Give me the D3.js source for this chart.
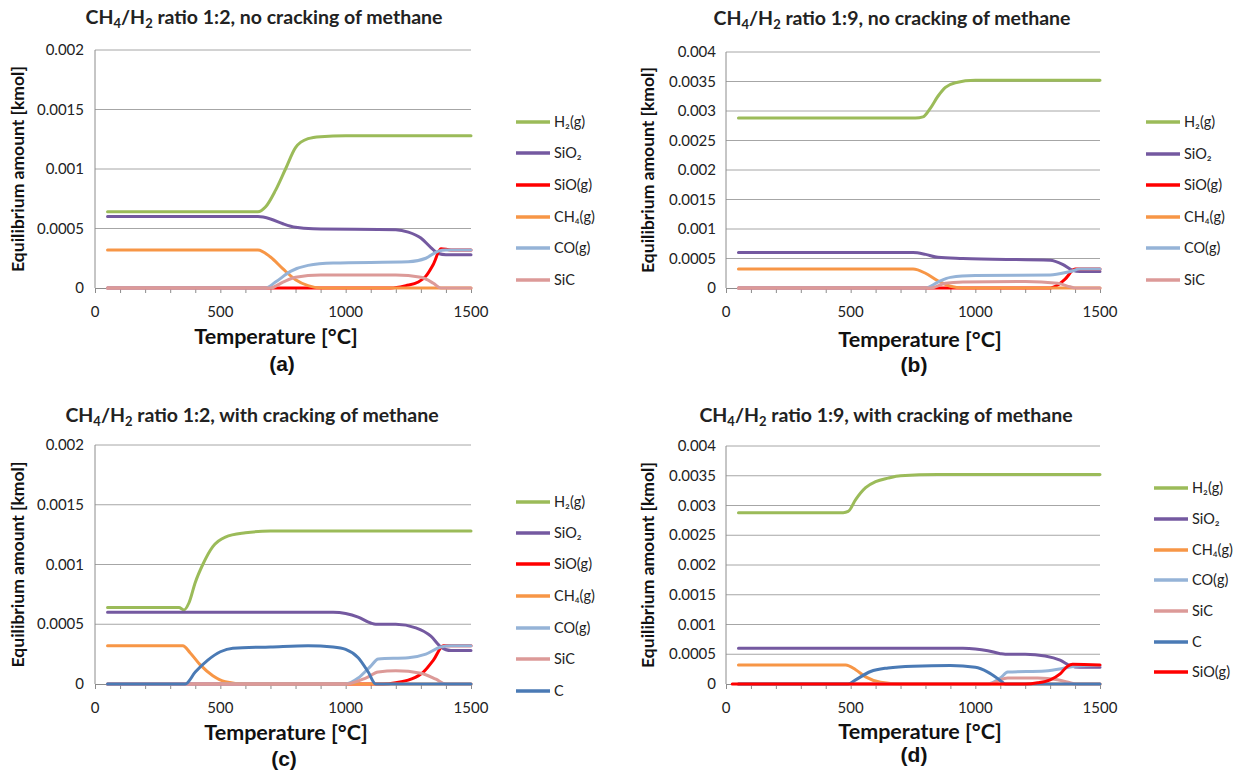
<!DOCTYPE html>
<html>
<head>
<meta charset="utf-8">
<script src="https://cdn.jsdelivr.net/npm/d3@7"></script>
<style>
  body { margin: 0; background: #fff; }
  svg { display: block; }
  .tick-label { font-family: Lato, "Open Sans", sans-serif; font-size: 15px; fill: #222; }
  .legend-label { font-family: Lato, "Open Sans", sans-serif; font-size: 14.5px; fill: #222; }
</style>
</head>
<body>
<svg id="chart" width="1243" height="775"></svg>
<script>
// ---- data: [temperature degC, equilibrium amount kmol] ----

// (a) CH4/H2 1:2, no cracking
var a_H2   = [[50,0.00064],[650,0.00064],[680,0.00068],[720,0.00082],[760,0.001],[800,0.00118],[850,0.001255],[900,0.001272],[1000,0.00128],[1500,0.00128]];
var a_SiO2 = [[50,0.0006],[650,0.0006],[700,0.00058],[750,0.00054],[800,0.00051],[870,0.000497],[1200,0.00049],[1250,0.00047],[1300,0.00042],[1340,0.00034],[1370,0.00029],[1400,0.00028],[1500,0.00028]];
var a_SiO  = [[50,0],[1180,0],[1240,0.00002],[1290,0.00005],[1320,0.0001],[1350,0.0002],[1380,0.00033],[1420,0.00032],[1500,0.00032]];
var a_CH4  = [[50,0.00032],[650,0.00032],[700,0.00026],[750,0.00016],[800,0.00007],[850,0.00002],[900,0],[1500,0]];
var a_CO   = [[50,0],[680,0],[720,0.00005],[780,0.00014],[850,0.00019],[950,0.00021],[1250,0.00022],[1320,0.00025],[1370,0.00031],[1400,0.00032],[1500,0.00032]];
var a_SiC  = [[50,0],[700,0],[750,0.00005],[800,0.00009],[900,0.00011],[1200,0.00011],[1300,0.00009],[1350,0.00004],[1380,0],[1500,0]];

// (b) CH4/H2 1:9, no cracking
var b_H2   = [[50,0.00288],[760,0.00288],[790,0.0029],[820,0.00305],[850,0.00325],[880,0.0034],[920,0.00348],[1000,0.00352],[1500,0.00352]];
var b_SiO2 = [[50,0.0006],[750,0.0006],[800,0.00057],[850,0.00052],[950,0.0005],[1300,0.00047],[1350,0.0004],[1390,0.0003],[1420,0.00028],[1500,0.00028]];
var b_SiO  = [[50,0],[1300,0],[1330,0.00005],[1360,0.00015],[1400,0.00032],[1500,0.00032]];
var b_CH4  = [[50,0.00032],[750,0.00032],[800,0.00025],[850,0.00012],[900,0.00003],[950,0],[1500,0]];
var b_CO   = [[50,0],[800,0],[850,0.0001],[900,0.00018],[1000,0.00021],[1300,0.00022],[1380,0.00028],[1420,0.00032],[1500,0.00032]];
var b_SiC  = [[50,0],[820,0],[880,0.00008],[950,0.0001],[1200,0.00011],[1330,0.00008],[1380,0.00002],[1400,0],[1500,0]];

// (c) CH4/H2 1:2, with cracking
var c_H2   = [[50,0.00064],[335,0.00064],[355,0.00062],[375,0.00068],[400,0.00085],[430,0.001],[470,0.00115],[520,0.00123],[600,0.001265],[700,0.00128],[1500,0.00128]];
var c_SiO2 = [[50,0.0006],[950,0.0006],[1000,0.00059],[1050,0.00056],[1100,0.00051],[1120,0.0005],[1200,0.0005],[1280,0.00047],[1340,0.0004],[1380,0.00031],[1420,0.00028],[1500,0.00028]];
var c_SiO  = [[50,0],[1150,0],[1200,0.00001],[1260,0.00004],[1310,0.0001],[1350,0.0002],[1390,0.00032],[1500,0.00032]];
var c_CH4  = [[50,0.00032],[350,0.00032],[380,0.00026],[420,0.00016],[470,0.00007],[520,0.00002],[600,0],[1500,0]];
var c_CO   = [[50,0],[1000,0],[1050,0.00005],[1100,0.00015],[1130,0.00021],[1250,0.00022],[1320,0.00025],[1380,0.00031],[1420,0.00032],[1500,0.00032]];
var c_SiC  = [[50,0],[1000,0],[1080,0.00005],[1130,0.0001],[1200,0.00011],[1300,0.00009],[1360,0.00004],[1400,0],[1500,0]];
var c_C    = [[50,0],[360,0],[400,0.0001],[450,0.0002],[500,0.00027],[550,0.0003],[700,0.00031],[850,0.00032],[950,0.00031],[1000,0.00029],[1050,0.00022],[1090,0.0001],[1120,0],[1500,0]];

// (d) CH4/H2 1:9, with cracking
var d_H2   = [[50,0.00288],[470,0.00288],[490,0.0029],[520,0.0031],[560,0.0033],[600,0.0034],[650,0.00346],[700,0.0035],[850,0.00352],[1500,0.00352]];
var d_SiO2 = [[50,0.0006],[950,0.0006],[1000,0.00059],[1050,0.00056],[1100,0.00051],[1120,0.0005],[1200,0.0005],[1280,0.00047],[1340,0.0004],[1380,0.00031],[1420,0.00028],[1500,0.00028]];
var d_CH4  = [[50,0.00032],[480,0.00032],[520,0.00024],[560,0.00012],[620,0.00003],[700,0],[1500,0]];
var d_CO   = [[50,0],[1050,0],[1100,0.0001],[1130,0.0002],[1280,0.00022],[1350,0.00026],[1400,0.0003],[1500,0.00031]];
var d_SiC  = [[50,0],[1050,0],[1130,0.0001],[1250,0.0001],[1330,0.00007],[1380,0.00002],[1400,0],[1500,0]];
var d_C    = [[50,0],[490,0],[520,0.00007],[580,0.00021],[650,0.00027],[750,0.0003],[900,0.00031],[1000,0.00028],[1050,0.0002],[1100,0.00006],[1120,0],[1500,0]];
var d_SiO  = [[25,0],[1200,0],[1250,0.00002],[1300,0.00007],[1340,0.00017],[1370,0.0003],[1390,0.00033],[1500,0.00032]];

var xTicks = [0, 500, 1000, 1500];
var yTicksLow = [0, 0.0005, 0.001, 0.0015, 0.002];
var yTicksHigh = [0, 0.0005, 0.001, 0.0015, 0.002, 0.0025, 0.003, 0.0035, 0.004];

var colors = {
  H2: "#9bbb59", SiO2: "#7459a0", SiO: "#ff0000", CH4: "#f79646",
  CO: "#95b3d7", SiC: "#dc9a98", C: "#4a7ab5"
};
var labels = {
  H2: "H\u2082(g)", SiO2: "SiO\u2082", SiO: "SiO(g)", CH4: "CH\u2084(g)",
  CO: "CO(g)", SiC: "SiC", C: "C"
};

// layout of the four panels
var panels = [
  {tag: "(a)", ratio: "1:2", mode: "no cracking of methane", yTicks: yTicksLow,
   series: [["H2", a_H2], ["SiO2", a_SiO2], ["SiO", a_SiO], ["CH4", a_CH4], ["CO", a_CO], ["SiC", a_SiC]],
   x0: 95, x1: 471, yTop: 50, yBot: 288, titleX: 264, titleY: 24, tickRight: 84, xLabY: 317,
   axTitleX: 276, axTitleY: 344, tagX: 282, tagY: 371, yLabX: 18,
   legX: 516, legRows: [122, 153, 185, 217, 248, 280]},
  {tag: "(b)", ratio: "1:9", mode: "no cracking of methane", yTicks: yTicksHigh,
   series: [["H2", b_H2], ["SiO2", b_SiO2], ["SiO", b_SiO], ["CH4", b_CH4], ["CO", b_CO], ["SiC", b_SiC]],
   x0: 726, x1: 1100, yTop: 52, yBot: 288, titleX: 892, titleY: 25, tickRight: 716, xLabY: 317,
   axTitleX: 920, axTitleY: 347, tagX: 914, tagY: 372, yLabX: 648,
   legX: 1146, legRows: [122, 154, 185, 217, 248, 280]},
  {tag: "(c)", ratio: "1:2", mode: "with cracking of methane", yTicks: yTicksLow,
   series: [["H2", c_H2], ["SiO2", c_SiO2], ["SiO", c_SiO], ["CH4", c_CH4], ["CO", c_CO], ["SiC", c_SiC], ["C", c_C]],
   x0: 95, x1: 471, yTop: 445, yBot: 684, titleX: 252, titleY: 422, tickRight: 84, xLabY: 713,
   axTitleX: 286, axTitleY: 740, tagX: 284, tagY: 766, yLabX: 18,
   legX: 516, legRows: [502, 533, 564, 596, 628, 659, 691]},
  {tag: "(d)", ratio: "1:9", mode: "with cracking of methane", yTicks: yTicksHigh,
   series: [["H2", d_H2], ["SiO2", d_SiO2], ["CH4", d_CH4], ["CO", d_CO], ["SiC", d_SiC], ["C", d_C], ["SiO", d_SiO]],
   x0: 726, x1: 1100, yTop: 446, yBot: 684, titleX: 886, titleY: 422, tickRight: 716, xLabY: 713,
   axTitleX: 920, axTitleY: 739, tagX: 914, tagY: 762, yLabX: 648,
   legX: 1154, legRows: [488, 519, 550, 580, 611, 642, 672]}
];

var svg = d3.select("#chart");

panels.forEach(function(p) {
  var g = svg.append("g");
  var yMax = p.yTicks[p.yTicks.length - 1];

  var x = d3.scaleLinear().domain([0, 1500]).range([p.x0, p.x1]);
  var y = d3.scaleLinear().domain([0, yMax]).range([p.yBot, p.yTop]);

  // horizontal gridlines
  g.selectAll(".grid")
    .data(p.yTicks.slice(1))
    .enter().append("line")
    .attr("x1", p.x0).attr("x2", p.x1)
    .attr("y1", function(d) { return y(d); })
    .attr("y2", function(d) { return y(d); })
    .attr("stroke", "#a6a6a6").attr("stroke-width", 1);

  // left axis line + labels
  g.append("line")
    .attr("x1", p.x0).attr("x2", p.x0).attr("y1", p.yTop).attr("y2", p.yBot)
    .attr("stroke", "#8c8c8c");
  g.selectAll(".ylab")
    .data(p.yTicks)
    .enter().append("text")
    .attr("class", "tick-label")
    .attr("x", p.tickRight)
    .attr("y", function(d) { return y(d) + 5; })
    .attr("text-anchor", "end")
    .text(function(d) { return d === 0 ? "0" : String(+d.toFixed(4)); });

  // bottom axis with a small tick every 100 degrees
  var xAxis = d3.axisBottom(x).tickValues(d3.range(0, 1501, 100)).tickSize(5).tickFormat("");
  var ax = g.append("g").attr("transform", "translate(0," + p.yBot + ")").call(xAxis);
  ax.select(".domain").attr("stroke", "#8c8c8c");
  ax.selectAll(".tick line").attr("stroke", "#8c8c8c");

  g.selectAll(".xlab")
    .data(xTicks)
    .enter().append("text")
    .attr("class", "tick-label")
    .attr("x", function(d) { return x(d); })
    .attr("y", p.xLabY)
    .attr("text-anchor", "middle")
    .text(function(d) { return d; });

  // series lines
  var line = d3.line()
    .x(function(d) { return x(d[0]); })
    .y(function(d) { return y(d[1]); })
    .curve(d3.curveMonotoneX);

  p.series.forEach(function(s) {
    g.append("path")
      .datum(s[1])
      .attr("d", line)
      .attr("fill", "none")
      .attr("stroke", colors[s[0]])
      .attr("stroke-width", 3)
      .attr("stroke-linejoin", "round")
      .attr("stroke-linecap", "round");
  });

  // legend
  p.series.forEach(function(s, i) {
    var ly = p.legRows[i];
    g.append("line")
      .attr("x1", p.legX).attr("x2", p.legX + 34)
      .attr("y1", ly).attr("y2", ly)
      .attr("stroke", colors[s[0]]).attr("stroke-width", 3.5);
    g.append("text")
      .attr("class", "legend-label")
      .attr("x", p.legX + 38).attr("y", ly + 5)
      .text(labels[s[0]]);
  });

  // title with subscripts
  var t = g.append("text")
    .attr("x", p.titleX).attr("y", p.titleY)
    .attr("text-anchor", "middle")
    .style("font-family", "Lato, 'Open Sans', sans-serif")
    .style("font-size", "19.5px").style("font-weight", "bold").style("fill", "#222");
  t.append("tspan").text("CH");
  t.append("tspan").attr("dy", 4).style("font-size", "13px").text("4");
  t.append("tspan").attr("dy", -4).text("/H");
  t.append("tspan").attr("dy", 4).style("font-size", "13px").text("2");
  t.append("tspan").attr("dy", -4).text(" ratio " + p.ratio + ", " + p.mode);

  // axis titles
  g.append("text")
    .attr("x", p.axTitleX).attr("y", p.axTitleY)
    .attr("text-anchor", "middle")
    .style("font-family", "Lato, 'Open Sans', sans-serif")
    .style("font-size", "21.5px").style("font-weight", "bold").style("fill", "#111")
    .text("Temperature [\u00b0C]");

  g.append("text")
    .attr("transform", "translate(" + (p.yLabX + 6) + "," + ((p.yTop + p.yBot) / 2) + ") rotate(-90)")
    .attr("text-anchor", "middle")
    .style("font-family", "Lato, 'Open Sans', sans-serif")
    .style("font-size", "17.5px").style("font-weight", "bold").style("fill", "#111")
    .text("Equilibrium amount [kmol]");

  g.append("text")
    .attr("x", p.tagX).attr("y", p.tagY)
    .attr("text-anchor", "middle")
    .style("font-family", "'Liberation Sans', Arial, sans-serif")
    .style("font-size", "21px").style("font-weight", "bold").style("fill", "#111")
    .text(p.tag);
});
</script>
</body>
</html>
